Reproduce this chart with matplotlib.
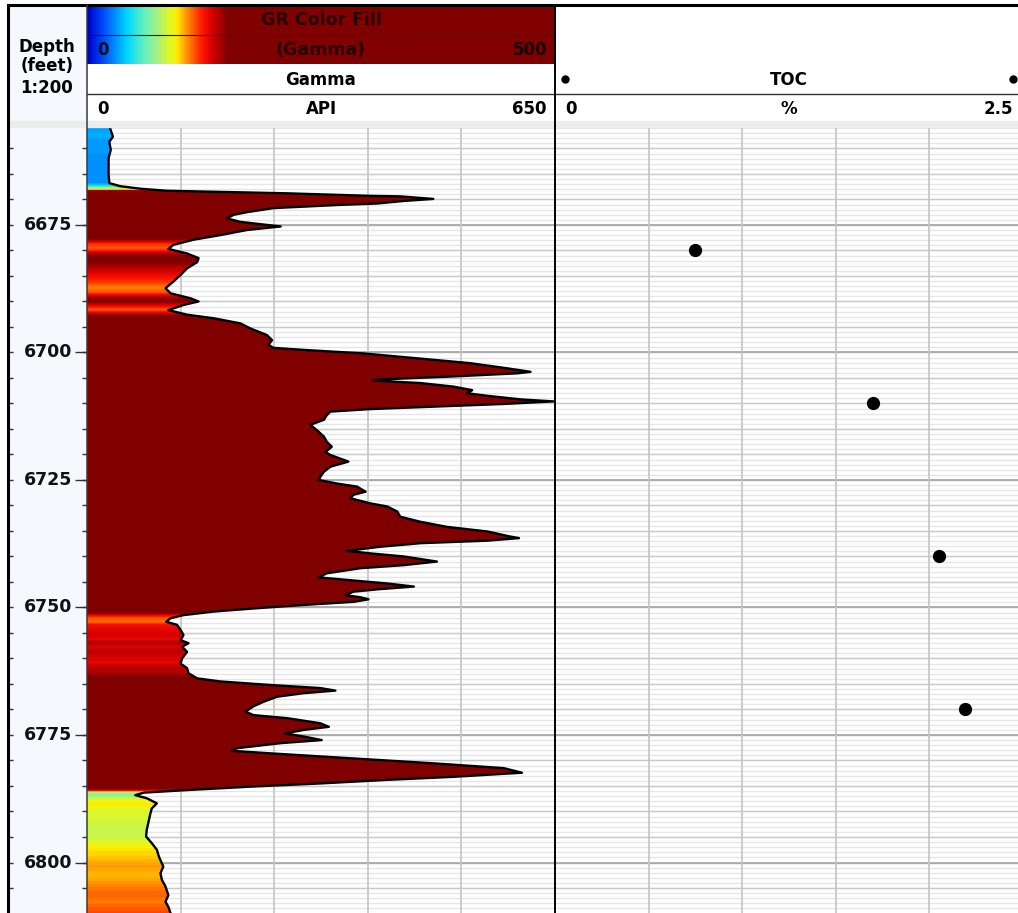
import numpy as np
import matplotlib
matplotlib.use("Agg")
import matplotlib.pyplot as plt
from matplotlib.colors import LinearSegmentedColormap, Normalize

# ---- log data -------------------------------------------------------------
depth = [6655.7, 6656.0, 6657.7, 6658.7, 6660.3, 6661.9, 6665.2, 6666.8, 6667.4, 6667.9,
         6668.3, 6668.8, 6669.3, 6669.4, 6669.9, 6670.3, 6670.8, 6671.1, 6671.7, 6672.5,
         6673.0, 6673.7, 6674.4, 6675.0, 6675.3, 6676.0, 6677.0, 6677.9, 6678.9, 6679.7,
         6680.6, 6681.5, 6682.3, 6683.5, 6684.8, 6686.1, 6687.4, 6688.4, 6689.4, 6690.0,
         6690.7, 6691.7, 6692.6, 6693.3, 6694.3, 6695.3, 6696.6, 6697.6, 6698.5, 6699.1,
         6699.5, 6700.2, 6701.2, 6702.1, 6703.1, 6703.8, 6704.1, 6704.7, 6705.3, 6705.5,
         6706.0, 6706.7, 6707.4, 6708.0, 6708.5, 6709.2, 6709.6, 6710.1, 6710.6, 6711.1,
         6711.6, 6712.3, 6713.2, 6714.2, 6715.2, 6716.5, 6717.5, 6718.5, 6719.5, 6720.1,
         6721.4, 6722.4, 6723.4, 6724.4, 6725.0, 6725.7, 6726.3, 6727.3, 6727.9, 6728.6,
         6729.6, 6730.2, 6731.2, 6732.2, 6733.2, 6734.2, 6735.1, 6736.1, 6736.4, 6736.9,
         6737.4, 6738.1, 6738.9, 6739.4, 6740.0, 6741.0, 6741.7, 6742.3, 6743.3, 6744.1,
         6744.6, 6745.3, 6745.9, 6746.4, 6746.9, 6747.6, 6748.0, 6748.4, 6748.9, 6749.5,
         6750.2, 6750.8, 6751.5, 6752.1, 6752.8, 6753.4, 6754.4, 6755.4, 6756.4, 6757.0,
         6757.7, 6758.7, 6760.0, 6761.0, 6761.9, 6762.9, 6763.9, 6764.5, 6765.2, 6765.8,
         6766.3, 6766.8, 6767.5, 6768.5, 6769.4, 6770.4, 6771.1, 6771.7, 6772.7, 6773.4,
         6774.0, 6774.7, 6775.3, 6776.0, 6776.6, 6777.6, 6778.1, 6778.6, 6779.6, 6780.6,
         6781.5, 6782.4, 6783.2, 6783.8, 6784.5, 6785.1, 6785.8, 6786.3, 6786.8, 6787.4,
         6788.4, 6789.4, 6790.4, 6791.7, 6793.6, 6794.9, 6796.2, 6797.5, 6798.9, 6800.8,
         6802.1, 6803.4, 6804.7, 6806.4, 6807.7, 6808.7, 6809.9, 6810.2]
gamma = [32, 32, 36, 31, 33, 30, 30, 31, 46, 74,
         111, 278, 394, 435, 481, 440, 403, 347, 259, 222,
         204, 194, 213, 250, 269, 222, 185, 148, 120, 113,
         139, 155, 153, 139, 130, 120, 109, 116, 144, 155,
         134, 113, 139, 176, 213, 227, 250, 257, 252, 259,
         301, 385, 463, 532, 583, 616, 597, 509, 407, 396,
         463, 509, 535, 528, 556, 602, 648, 579, 486, 394,
         338, 333, 329, 310, 319, 329, 333, 340, 331, 338,
         363, 338, 329, 324, 322, 347, 375, 387, 370, 366,
         394, 417, 431, 435, 463, 500, 556, 588, 600, 556,
         463, 407, 361, 394, 440, 486, 440, 380, 333, 322,
         361, 417, 454, 407, 370, 359, 380, 391, 370, 301,
         231, 176, 134, 116, 110, 125, 130, 134, 130, 141,
         132, 139, 132, 130, 139, 141, 153, 185, 255, 324,
         345, 301, 264, 245, 231, 220, 231, 278, 324, 336,
         301, 275, 301, 326, 269, 208, 201, 255, 370, 486,
         579, 604, 509, 417, 324, 231, 139, 79, 67, 83,
         97, 90, 88, 86, 83, 82, 90, 97, 100, 106,
         102, 104, 109, 113, 109, 113, 116, 116]

toc_depth = [6680, 6710, 6740, 6770]
toc_value = [0.75, 1.70, 2.05, 2.19]

depth_labels = [6675, 6700, 6725, 6750, 6775, 6800]
gr_range = (0, 650)          # API
toc_range = (0, 2.5)         # %
fill_range = (0, 500)        # colour fill scale

# ---- layout in pixels -----------------------------------------------------
W, H = 1018, 913
fig = plt.figure(figsize=(W / 100, H / 100), dpi=100)
fig.patch.set_facecolor("white")

TOP, BOT = 127, 913
X_LEFT, X_DEPTH, X_MID, X_RIGHT = 8, 87, 555, 1023
D_TOP, D_BOT = 6655.8, 6809.9


def px_axes(x0, y0, x1, y1, **kw):
    return fig.add_axes([x0 / W, 1 - y1 / H, (x1 - x0) / W, (y1 - y0) / H], **kw)


def clean(ax):
    ax.set_xticks([])
    ax.set_yticks([])
    for s in ax.spines.values():
        s.set_visible(False)


cmap = LinearSegmentedColormap.from_list("grfill", [
    (0.0, "#0000C8"), (0.035, "#0050FF"), (0.085, "#00D8FF"), (0.12, "#60F0C0"),
    (0.15, "#A8F080"), (0.172, "#D8F830"), (0.19, "#FFF000"), (0.205, "#FFB000"),
    (0.225, "#FF6000"), (0.245, "#FF1800"), (0.265, "#D80000"), (0.30, "#800000"),
    (1.0, "#800000")])
norm = Normalize(*fill_range)

# ---- depth column ---------------------------------------------------------
ax_d = px_axes(X_LEFT, TOP, X_DEPTH, BOT)
clean(ax_d)
ax_d.set_facecolor("#F5F8FD")
ax_d.set_xlim(0, 1)
ax_d.set_ylim(D_BOT, D_TOP)
ytr = ax_d.get_yaxis_transform()
minor_ticks = np.arange(6660, 6810, 5)
ax_d.hlines(minor_ticks, 0.0, 0.065, transform=ytr, color="#333333", lw=1.0)
ax_d.hlines(minor_ticks, 0.935, 1.0, transform=ytr, color="#333333", lw=1.0)
ax_d.hlines(depth_labels, 0.85, 1.0, transform=ytr, color="#333333", lw=1.0)
for d in depth_labels:
    ax_d.text(0.81, d, str(d), transform=ytr, ha="right", va="center",
              fontsize=12.5, fontweight="bold", color="#111111")


# ---- track grid helper ----------------------------------------------------
def track_grid(ax):
    tr = ax.get_yaxis_transform()
    ax.hlines(np.arange(6656, 6811, 1), 0, 1, transform=tr, color="#E6E6E6", lw=1.0, zorder=0)
    ax.hlines(np.arange(6660, 6811, 5), 0, 1, transform=tr, color="#CACACA", lw=1.0, zorder=0)
    ax.hlines(np.arange(6675, 6811, 25), 0, 1, transform=tr, color="#A5A5A5", lw=1.2, zorder=0)
    ax.vlines([0.2, 0.4, 0.6, 0.8], 0, 1, transform=ax.transAxes, color="#C4C4C4", lw=1.2, zorder=0)


# ---- gamma track ----------------------------------------------------------
ax_g = px_axes(X_DEPTH, TOP, X_MID, BOT)
clean(ax_g)
track_grid(ax_g)
d_fine = np.arange(D_TOP - 0.5, D_BOT + 0.5, 0.1)
g_fine = np.interp(d_fine, depth, gamma)
im = ax_g.imshow(g_fine[:, None], cmap=cmap, norm=norm, aspect="auto",
                 extent=[gr_range[0], gr_range[1], d_fine[-1], d_fine[0]],
                 origin="upper", interpolation="nearest", zorder=2)
poly = ax_g.fill_betweenx(depth, gr_range[0], gamma, facecolor="none", edgecolor="none")
im.set_clip_path(poly.get_paths()[0], ax_g.transData)
ax_g.plot(gamma, depth, color="black", lw=1.7, zorder=3)
ax_g.set_xlim(*gr_range)
ax_g.set_ylim(D_BOT, D_TOP)

# ---- TOC track ------------------------------------------------------------
ax_t = px_axes(X_MID, TOP, X_RIGHT, BOT)
clean(ax_t)
track_grid(ax_t)
ax_t.plot(toc_value, toc_depth, "o", color="black", ms=8.5, zorder=3)
ax_t.set_xlim(*toc_range)
ax_t.set_ylim(D_BOT, D_TOP)

# ---- header ---------------------------------------------------------------
hax = fig.add_axes([0, 0, 1, 1], zorder=10)
hax.set_xlim(0, W)
hax.set_ylim(H, 0)
hax.axis("off")
hax.patch.set_visible(False)

hax.add_patch(plt.Rectangle((X_LEFT, 5), X_DEPTH - X_LEFT, 117, color="#F5F8FD", zorder=1))
hax.add_patch(plt.Rectangle((X_LEFT, 121), W - X_LEFT, 6, color="#ECECEC", zorder=1))
grad = np.linspace(fill_range[0], fill_range[1], 512)[None, :]
hax.imshow(grad, cmap=cmap, norm=norm, aspect="auto",
           extent=[X_DEPTH, X_MID, 64, 5], origin="upper", zorder=2)
hax.set_xlim(0, W)
hax.set_ylim(H, 0)

hax.plot([X_DEPTH, X_MID], [35, 35], color="#3A0A0A", lw=0.8, zorder=3)
hax.plot([X_DEPTH, W], [94, 94], color="#333333", lw=1.0, zorder=3)
hax.plot([X_LEFT, W], [5, 5], color="black", lw=2.2, zorder=4)
hax.plot([X_LEFT, X_LEFT], [5, H], color="black", lw=2.2, zorder=4)
hax.plot([X_DEPTH, X_DEPTH], [5, H], color="#3A3A3A", lw=1.1, zorder=4)
hax.plot([X_MID, X_MID], [5, H], color="black", lw=1.4, zorder=4)

for txt, yy in [("Depth", 47), ("(feet)", 66), ("1:200", 88)]:
    hax.text(47, yy, txt, ha="center", va="center", fontsize=12, fontweight="bold", zorder=5)

gmid = (X_DEPTH + X_MID) / 2
hax.text(gmid, 20, "GR Color Fill", ha="center", va="center", fontsize=12.5,
         fontweight="bold", color="#240000", zorder=5)
hax.text(97, 50, "0", ha="left", va="center", fontsize=12, fontweight="bold", color="#111111", zorder=5)
hax.text(gmid, 50, "(Gamma)", ha="center", va="center", fontsize=12.5,
         fontweight="bold", color="#240000", zorder=5)
hax.text(547, 50, "500", ha="right", va="center", fontsize=12, fontweight="bold", color="#1A0000", zorder=5)
hax.text(gmid, 80, "Gamma", ha="center", va="center", fontsize=12, fontweight="bold", zorder=5)
hax.text(97, 109, "0", ha="left", va="center", fontsize=12, fontweight="bold", zorder=5)
hax.text(gmid, 109, "API", ha="center", va="center", fontsize=12, fontweight="bold", zorder=5)
hax.text(547, 109, "650", ha="right", va="center", fontsize=12, fontweight="bold", zorder=5)

tmid = (X_MID + X_RIGHT) / 2
hax.plot([565, 1013], [79, 79], "o", color="black", ms=5, zorder=5)
hax.text(tmid, 80, "TOC", ha="center", va="center", fontsize=12, fontweight="bold", zorder=5)
hax.text(565, 109, "0", ha="left", va="center", fontsize=12, fontweight="bold", zorder=5)
hax.text(tmid, 109, "%", ha="center", va="center", fontsize=12, fontweight="bold", zorder=5)
hax.text(1013, 109, "2.5", ha="right", va="center", fontsize=12, fontweight="bold", zorder=5)

fig.savefig("out.png", dpi=100)
